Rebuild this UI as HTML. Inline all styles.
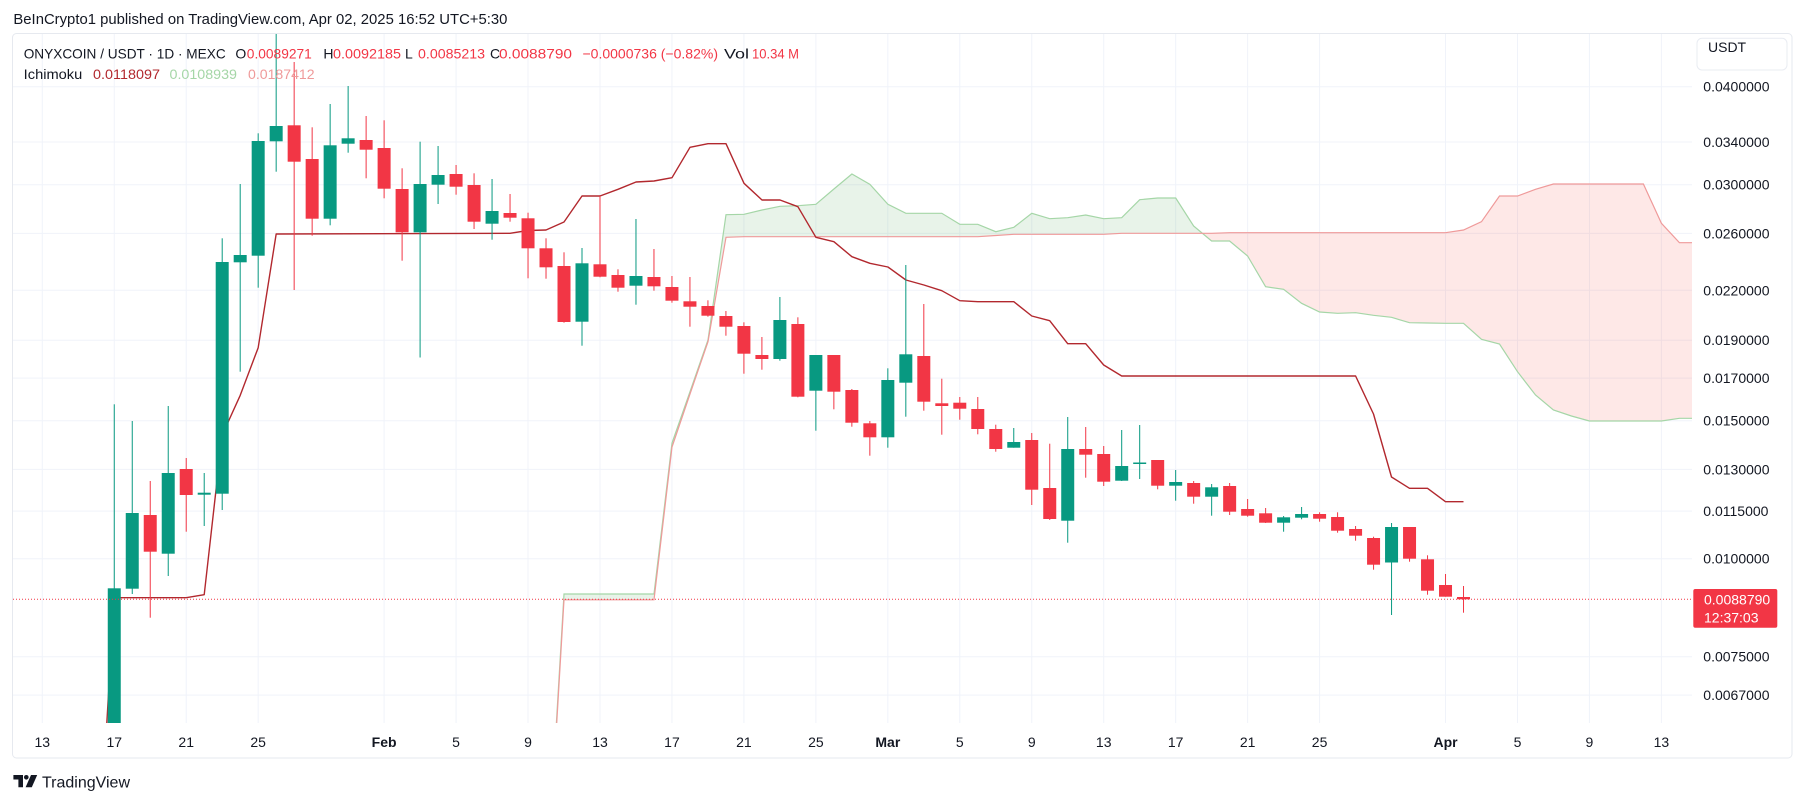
<!DOCTYPE html>
<html><head><meta charset="utf-8"><style>
html,body{margin:0;padding:0;background:#fff;width:1805px;height:803px;overflow:hidden;}
svg{display:block;font-family:"Liberation Sans",Arial,sans-serif;}
</style></head><body>
<svg width="1805" height="803" viewBox="0 0 1805 803" xmlns="http://www.w3.org/2000/svg">
<defs><clipPath id="plot"><rect x="13" y="34" width="1679" height="689"/></clipPath></defs>
<rect x="0" y="0" width="1805" height="803" fill="#fff"/>
<text x="13.4" y="24" font-size="14.5" fill="#131722" textLength="494" lengthAdjust="spacingAndGlyphs">BeInCrypto1 published on TradingView.com, Apr 02, 2025 16:52 UTC+5:30</text>
<rect x="12.5" y="33.5" width="1779.5" height="724.5" rx="4" fill="#fff" stroke="#E6E9EF"/>
<g stroke="#F0F3FA" stroke-width="1">
<path d="M42.3,34V723M114.26,34V723M186.22,34V723M258.18,34V723M384.11,34V723M456.07,34V723M528.03,34V723M599.99,34V723M671.95,34V723M743.91,34V723M815.87,34V723M887.83,34V723M959.79,34V723M1031.75,34V723M1103.71,34V723M1175.67,34V723M1247.63,34V723M1319.59,34V723M1445.52,34V723M1517.48,34V723M1589.44,34V723M1661.4,34V723"/>
<path d="M13,86.7H1692M13,142H1692M13,184.7H1692M13,233.4H1692M13,290.3H1692M13,340.2H1692M13,378.1H1692M13,420.7H1692M13,469.4H1692M13,511.1H1692M13,558.7H1692M13,656.7H1692M13,695.1H1692"/>
</g>
<g clip-path="url(#plot)">
<path fill="rgba(67,160,71,0.12)" d="M554.2,760 L564,594 L654,594 L672,443 L690,391.7 L708,340 L726,214.7 L744,214.3 L762,210 L780,206.3 L797.9,205.7 L815.9,204.3 L833.9,189 L851.9,174 L869.9,184.3 L887.9,204.3 L905.9,213.3 L941.8,213.3 L959.8,224.3 L977.8,224.3 L995.8,231.7 L1013.8,227.3 L1031.8,213.3 L1049.7,218.7 L1067.7,217.7 L1085.7,215 L1103.7,218.7 L1121.7,217.7 L1139.7,199.7 L1157.7,198 L1175.7,198 L1193.6,226 L1202.4,233.3 L1121.7,233.3 L1103.7,234.3 L1013.8,234.3 L995.8,235.5 L977.8,236.7 L744,236.7 L726,237.3 L708,341.7 L690,394 L672,447 L654,599.8 L564,599.8 L554.55,760 Z"/>
<path fill="rgba(244,67,54,0.12)" d="M1202.4,233.3 L1211.6,241 L1229.6,241 L1247.6,256 L1265.6,286.7 L1283.6,289.3 L1301.6,303.3 L1319.6,312 L1337.6,313.3 L1355.6,312.7 L1373.5,315.3 L1391.5,317.3 L1409.5,322.7 L1427.5,323 L1445.5,323.3 L1463.5,323.3 L1481.5,339.3 L1499.5,344 L1517.5,371.7 L1535.5,395 L1553.4,410 L1571.4,416 L1589.4,421 L1661.4,421 L1679.4,418.3 L1700,418.3 L1700,242.7 L1679.4,242.7 L1661.4,223.3 L1643.4,184 L1553.4,184 L1535.5,189.3 L1517.5,196 L1499.5,196 L1481.5,221.7 L1463.5,230 L1445.5,232.7 L1229.6,232.7 L1211.6,233.3 Z"/>
<path fill="none" stroke="#A5D6A7" stroke-width="1.2" d="M554.2,760 L564,594 L654,594 L672,443 L690,391.7 L708,340 L726,214.7 L744,214.3 L762,210 L780,206.3 L797.9,205.7 L815.9,204.3 L833.9,189 L851.9,174 L869.9,184.3 L887.9,204.3 L905.9,213.3 L941.8,213.3 L959.8,224.3 L977.8,224.3 L995.8,231.7 L1013.8,227.3 L1031.8,213.3 L1049.7,218.7 L1067.7,217.7 L1085.7,215 L1103.7,218.7 L1121.7,217.7 L1139.7,199.7 L1157.7,198 L1175.7,198 L1193.6,226 L1211.6,241 L1229.6,241 L1247.6,256 L1265.6,286.7 L1283.6,289.3 L1301.6,303.3 L1319.6,312 L1337.6,313.3 L1355.6,312.7 L1373.5,315.3 L1391.5,317.3 L1409.5,322.7 L1427.5,323 L1445.5,323.3 L1463.5,323.3 L1481.5,339.3 L1499.5,344 L1517.5,371.7 L1535.5,395 L1553.4,410 L1571.4,416 L1589.4,421 L1661.4,421 L1679.4,418.3 L1700,418.3"/>
<path fill="none" stroke="#EF9A9A" stroke-width="1.2" d="M554.55,760 L564,599.8 L654,599.8 L672,447 L690,394 L708,341.7 L726,237.3 L744,236.7 L977.8,236.7 L995.8,235.5 L1013.8,234.3 L1103.7,234.3 L1121.7,233.3 L1211.6,233.3 L1229.6,232.7 L1445.5,232.7 L1463.5,230 L1481.5,221.7 L1499.5,196 L1517.5,196 L1535.5,189.3 L1553.4,184 L1643.4,184 L1661.4,223.3 L1679.4,242.7 L1700,242.7"/>
<path fill="none" stroke="#B2282E" stroke-width="1.4" stroke-linejoin="round" d="M104.6,760 L114.26,597.7 L186.22,597.7 L204.21,594.7 L222.2,435 L240.19,395.4 L258.18,347.7 L276.17,234 L510,233.3 L528,230.5 L546,230 L564,222 L582,196 L600,196 L618,189.3 L636,182 L654,181 L672,177.7 L690,147.3 L708,143.7 L726,143.7 L744,183.3 L762,200 L780,200 L797.9,206.7 L815.9,237.3 L833.9,241.7 L851.9,256.7 L869.9,263.3 L887.9,267 L905.9,280 L923.9,285 L941.8,290.7 L959.8,300.7 L977.8,301.7 L1013.8,301.7 L1031.8,316 L1049.7,320.7 L1067.7,343.7 L1085.7,343.7 L1103.7,365 L1121.7,376 L1355.6,376 L1373.5,414 L1391.5,477 L1409.5,488.3 L1427.5,488.3 L1445.5,501.7 L1463.5,501.7"/>
<g fill="#089981">
<rect x="113.76" y="404.3" width="1" height="320"/><rect x="107.76" y="588.3" width="13" height="136"/>
<rect x="131.75" y="421" width="1" height="173"/><rect x="125.75" y="513" width="13" height="75.7"/>
<rect x="167.73" y="406" width="1" height="170"/><rect x="161.73" y="473" width="13" height="80.7"/>
<rect x="203.71" y="473" width="1" height="53"/><rect x="197.71" y="492.7" width="13" height="2"/>
<rect x="221.7" y="238.3" width="1" height="271.7"/><rect x="215.7" y="262" width="13" height="231.7"/>
<rect x="239.69" y="184" width="1" height="187.7"/><rect x="233.69" y="255" width="13" height="7.3"/>
<rect x="257.68" y="133.3" width="1" height="154.4"/><rect x="251.68" y="141" width="13" height="114.7"/>
<rect x="275.67" y="34" width="1" height="137.7"/><rect x="269.67" y="126" width="13" height="15.3"/>
<rect x="329.64" y="104" width="1" height="121.3"/><rect x="323.64" y="145.3" width="13" height="73.4"/>
<rect x="347.63" y="86" width="1" height="66.7"/><rect x="341.63" y="138.3" width="13" height="5.4"/>
<rect x="419.59" y="141.7" width="1" height="215.8"/><rect x="413.59" y="184" width="13" height="48.3"/>
<rect x="437.58" y="146" width="1" height="58"/><rect x="431.58" y="175" width="13" height="9.7"/>
<rect x="491.55" y="179" width="1" height="60.7"/><rect x="485.55" y="211" width="13" height="12.7"/>
<rect x="581.5" y="248" width="1" height="97.7"/><rect x="575.5" y="263.3" width="13" height="58.4"/>
<rect x="635.47" y="219" width="1" height="85.7"/><rect x="629.47" y="276" width="13" height="9.7"/>
<rect x="779.39" y="297" width="1" height="63.7"/><rect x="773.39" y="320" width="13" height="39"/>
<rect x="815.37" y="355" width="1" height="75.7"/><rect x="809.37" y="355" width="13" height="35.7"/>
<rect x="887.33" y="368.3" width="1" height="79.4"/><rect x="881.33" y="380" width="13" height="57.3"/>
<rect x="905.32" y="265" width="1" height="151.7"/><rect x="899.32" y="354.3" width="13" height="28.4"/>
<rect x="1013.26" y="428" width="1" height="19.7"/><rect x="1007.26" y="442" width="13" height="5.7"/>
<rect x="1067.23" y="417" width="1" height="125.7"/><rect x="1061.23" y="449" width="13" height="71.7"/>
<rect x="1121.2" y="430" width="1" height="51"/><rect x="1115.2" y="466" width="13" height="14.7"/>
<rect x="1139.19" y="425" width="1" height="54"/><rect x="1133.19" y="462.5" width="13" height="1.5"/>
<rect x="1175.17" y="470" width="1" height="30.7"/><rect x="1169.17" y="482" width="13" height="3.7"/>
<rect x="1211.15" y="484" width="1" height="31.7"/><rect x="1205.15" y="487.3" width="13" height="9.4"/>
<rect x="1283.11" y="516" width="1" height="15.7"/><rect x="1277.11" y="517.3" width="13" height="5.4"/>
<rect x="1301.1" y="507" width="1" height="12.3"/><rect x="1295.1" y="514" width="13" height="3.7"/>
<rect x="1391.05" y="523" width="1" height="92"/><rect x="1385.05" y="527" width="13" height="35.5"/>
</g>
<g fill="#F23645">
<rect x="149.74" y="481" width="1" height="136.7"/><rect x="143.74" y="515" width="13" height="36.7"/>
<rect x="185.72" y="458" width="1" height="73.7"/><rect x="179.72" y="469" width="13" height="26"/>
<rect x="293.66" y="62" width="1" height="228"/><rect x="287.66" y="125.3" width="13" height="36.4"/>
<rect x="311.65" y="127.3" width="1" height="108.4"/><rect x="305.65" y="159" width="13" height="59.7"/>
<rect x="365.62" y="116" width="1" height="62.3"/><rect x="359.62" y="140" width="13" height="9.7"/>
<rect x="383.61" y="120.3" width="1" height="78"/><rect x="377.61" y="148" width="13" height="40.7"/>
<rect x="401.6" y="168.3" width="1" height="92.4"/><rect x="395.6" y="189" width="13" height="43.3"/>
<rect x="455.57" y="165" width="1" height="29.7"/><rect x="449.57" y="174" width="13" height="12.7"/>
<rect x="473.56" y="173.3" width="1" height="55.7"/><rect x="467.56" y="185" width="13" height="36.7"/>
<rect x="509.54" y="194" width="1" height="27.7"/><rect x="503.54" y="213" width="13" height="4.7"/>
<rect x="527.53" y="212.7" width="1" height="65.6"/><rect x="521.53" y="218.3" width="13" height="30"/>
<rect x="545.52" y="238.3" width="1" height="40.4"/><rect x="539.52" y="248.3" width="13" height="19"/>
<rect x="563.51" y="252.3" width="1" height="70.4"/><rect x="557.51" y="266" width="13" height="56"/>
<rect x="599.49" y="196" width="1" height="81.3"/><rect x="593.49" y="264.3" width="13" height="12.4"/>
<rect x="617.48" y="269.3" width="1" height="22.4"/><rect x="611.48" y="275" width="13" height="12.7"/>
<rect x="653.46" y="249" width="1" height="41.7"/><rect x="647.46" y="277" width="13" height="9.3"/>
<rect x="671.45" y="276" width="1" height="26.7"/><rect x="665.45" y="287" width="13" height="13.7"/>
<rect x="689.44" y="277" width="1" height="49.7"/><rect x="683.44" y="301.3" width="13" height="5.4"/>
<rect x="707.43" y="300.3" width="1" height="16.4"/><rect x="701.43" y="306" width="13" height="9.7"/>
<rect x="725.42" y="311" width="1" height="24.7"/><rect x="719.42" y="316" width="13" height="10.7"/>
<rect x="743.41" y="322.3" width="1" height="51.4"/><rect x="737.41" y="326" width="13" height="27.7"/>
<rect x="761.4" y="337" width="1" height="32.7"/><rect x="755.4" y="355" width="13" height="4"/>
<rect x="797.38" y="317.3" width="1" height="80"/><rect x="791.38" y="324" width="13" height="72.7"/>
<rect x="833.36" y="355" width="1" height="54.3"/><rect x="827.36" y="355" width="13" height="36.7"/>
<rect x="851.35" y="389" width="1" height="37.7"/><rect x="845.35" y="390" width="13" height="32.7"/>
<rect x="869.34" y="421" width="1" height="34.7"/><rect x="863.34" y="423.3" width="13" height="14"/>
<rect x="923.31" y="304" width="1" height="106.7"/><rect x="917.31" y="356" width="13" height="45.7"/>
<rect x="941.3" y="378.7" width="1" height="56"/><rect x="935.3" y="403.3" width="13" height="2.7"/>
<rect x="959.29" y="397" width="1" height="22.7"/><rect x="953.29" y="402.7" width="13" height="6"/>
<rect x="977.28" y="397" width="1" height="37.3"/><rect x="971.28" y="409" width="13" height="20"/>
<rect x="995.27" y="424.7" width="1" height="27"/><rect x="989.27" y="429" width="13" height="20"/>
<rect x="1031.25" y="433" width="1" height="72"/><rect x="1025.25" y="440" width="13" height="49.7"/>
<rect x="1049.24" y="443.7" width="1" height="76.3"/><rect x="1043.24" y="488" width="13" height="31"/>
<rect x="1085.22" y="427" width="1" height="50.7"/><rect x="1079.22" y="449" width="13" height="5.7"/>
<rect x="1103.21" y="446" width="1" height="40"/><rect x="1097.21" y="454" width="13" height="27.7"/>
<rect x="1157.18" y="460" width="1" height="29.3"/><rect x="1151.18" y="460" width="13" height="25.7"/>
<rect x="1193.16" y="481" width="1" height="22.7"/><rect x="1187.16" y="483" width="13" height="13.7"/>
<rect x="1229.14" y="483" width="1" height="32"/><rect x="1223.14" y="486" width="13" height="25.7"/>
<rect x="1247.13" y="499" width="1" height="17.7"/><rect x="1241.13" y="509" width="13" height="6.7"/>
<rect x="1265.12" y="508" width="1" height="15"/><rect x="1259.12" y="513.3" width="13" height="9.4"/>
<rect x="1319.09" y="512.3" width="1" height="9.4"/><rect x="1313.09" y="514" width="13" height="4.7"/>
<rect x="1337.08" y="512.3" width="1" height="20.4"/><rect x="1331.08" y="517" width="13" height="13.7"/>
<rect x="1355.07" y="526" width="1" height="14.7"/><rect x="1349.07" y="529" width="13" height="6.7"/>
<rect x="1373.06" y="536.7" width="1" height="33"/><rect x="1367.06" y="538" width="13" height="26.7"/>
<rect x="1409.04" y="527" width="1" height="34.7"/><rect x="1403.04" y="527" width="13" height="31.7"/>
<rect x="1427.03" y="555.3" width="1" height="39.4"/><rect x="1421.03" y="559.3" width="13" height="31.4"/>
<rect x="1445.02" y="574" width="1" height="22.7"/><rect x="1439.02" y="585" width="13" height="11.7"/>
<rect x="1463.01" y="586" width="1" height="26.7"/><rect x="1457.01" y="597" width="13" height="2.3"/>
</g>
<line x1="13" y1="599.2" x2="1692" y2="599.2" stroke="#F23645" stroke-width="1" stroke-dasharray="1,2"/>
</g>
<g font-size="14" fill="#131722">
<text x="23.7" y="58.3" textLength="202" lengthAdjust="spacingAndGlyphs">ONYXCOIN / USDT · 1D · MEXC</text>
<text x="235.4" y="58.3">O</text><text x="246.8" y="58.3" fill="#F23645" textLength="65" lengthAdjust="spacingAndGlyphs">0.0089271</text>
<text x="323.4" y="58.3">H</text><text x="333" y="58.3" fill="#F23645" textLength="68" lengthAdjust="spacingAndGlyphs">0.0092185</text>
<text x="405" y="58.3">L</text><text x="418" y="58.3" fill="#F23645" textLength="67" lengthAdjust="spacingAndGlyphs">0.0085213</text>
<text x="490" y="58.3">C</text><text x="499" y="58.3" fill="#F23645" textLength="73" lengthAdjust="spacingAndGlyphs">0.0088790</text>
<text x="582.5" y="58.3" fill="#F23645" textLength="135.5" lengthAdjust="spacingAndGlyphs">−0.0000736 (−0.82%)</text>
<text x="724" y="58.3" textLength="25" lengthAdjust="spacingAndGlyphs">Vol</text>
<text x="752" y="58.3" fill="#F23645" textLength="47" lengthAdjust="spacingAndGlyphs">10.34 M</text>
<text x="23.7" y="79" textLength="58.6" lengthAdjust="spacingAndGlyphs">Ichimoku</text>
<text x="93" y="79" fill="#B2282E" textLength="67" lengthAdjust="spacingAndGlyphs">0.0118097</text>
<text x="169.5" y="79" fill="#A5D6A7" textLength="67.5" lengthAdjust="spacingAndGlyphs">0.0108939</text>
<text x="248" y="79" fill="#EF9A9A" textLength="66.6" lengthAdjust="spacingAndGlyphs">0.0187412</text>
</g>
<rect x="1697" y="38.3" width="90" height="31.7" rx="5" fill="#fff" stroke="#E9ECF2"/>
<text x="1708" y="51.8" font-size="14" fill="#131722">USDT</text>
<g font-size="14" fill="#131722">
<text x="1703.3" y="91.7">0.0400000</text>
<text x="1703.3" y="147">0.0340000</text>
<text x="1703.3" y="189.7">0.0300000</text>
<text x="1703.3" y="238.4">0.0260000</text>
<text x="1703.3" y="295.3">0.0220000</text>
<text x="1703.3" y="345.2">0.0190000</text>
<text x="1703.3" y="383.1">0.0170000</text>
<text x="1703.3" y="425.7">0.0150000</text>
<text x="1703.3" y="474.4">0.0130000</text>
<text x="1703.3" y="516.1">0.0115000</text>
<text x="1703.3" y="563.7">0.0100000</text>
<text x="1703.3" y="661.7">0.0075000</text>
<text x="1703.3" y="700.1">0.0067000</text>
</g>
<rect x="1693.3" y="589" width="84" height="38.7" rx="2" fill="#F23645"/>
<text x="1704" y="604.3" font-size="14" fill="#fff">0.0088790</text>
<text x="1704" y="622.5" font-size="14" fill="#fff">12:37:03</text>
<g font-size="14" fill="#131722" text-anchor="middle">
<text x="42.3" y="747">13</text>
<text x="114.26" y="747">17</text>
<text x="186.22" y="747">21</text>
<text x="258.18" y="747">25</text>
<text x="384.11" y="747" font-weight="bold">Feb</text>
<text x="456.07" y="747">5</text>
<text x="528.03" y="747">9</text>
<text x="599.99" y="747">13</text>
<text x="671.95" y="747">17</text>
<text x="743.91" y="747">21</text>
<text x="815.87" y="747">25</text>
<text x="887.83" y="747" font-weight="bold">Mar</text>
<text x="959.79" y="747">5</text>
<text x="1031.75" y="747">9</text>
<text x="1103.71" y="747">13</text>
<text x="1175.67" y="747">17</text>
<text x="1247.63" y="747">21</text>
<text x="1319.59" y="747">25</text>
<text x="1445.52" y="747" font-weight="bold">Apr</text>
<text x="1517.48" y="747">5</text>
<text x="1589.44" y="747">9</text>
<text x="1661.4" y="747">13</text>
</g>
<g fill="#131722">
<path d="M13.4,775 h9.6 v12.3 h-4.6 v-7.8 h-5 z"/>
<circle cx="26.3" cy="777.3" r="2.3"/>
<path d="M31,775 h6.2 l-5.4,12.3 h-6.2 z"/>
</g>
<text x="42" y="787.5" font-size="16" fill="#131722" textLength="88" lengthAdjust="spacingAndGlyphs">TradingView</text>
</svg>
</body></html>
